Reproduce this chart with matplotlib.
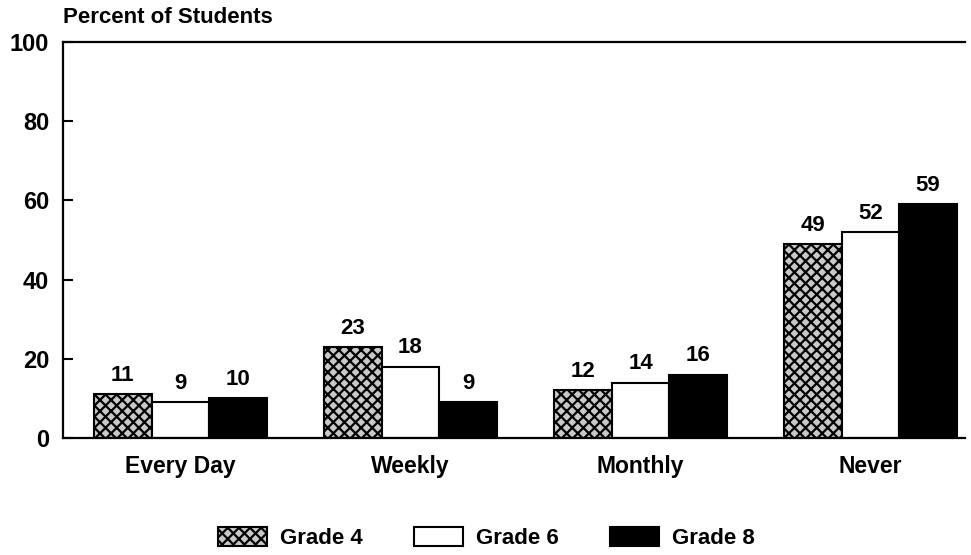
import matplotlib
matplotlib.use('Agg')
import matplotlib.pyplot as plt
import numpy as np

categories = ['Every Day', 'Weekly', 'Monthly', 'Never']
grades = ['Grade 4', 'Grade 6', 'Grade 8']
grade4 = [11, 23, 12, 49]
grade6 = [9, 18, 14, 52]
grade8 = [10, 9, 16, 59]
yticks = [0, 20, 40, 60, 80, 100]

plt.rcParams['font.family'] = ['Liberation Sans', 'DejaVu Sans']
plt.rcParams['hatch.linewidth'] = 1.6
plt.rcParams['hatch.color'] = 'black'

fig = plt.figure(figsize=(9.71, 5.55), dpi=100)
ax = fig.add_axes([63 / 971, 1 - 438 / 555, (965 - 63) / 971, (438 - 42) / 555])

x = np.arange(len(categories))
w = 0.25
styles = [dict(facecolor='#c8c8c8', edgecolor='black', hatch='xxx'),
          dict(facecolor='white', edgecolor='black'),
          dict(facecolor='black', edgecolor='black')]
series = [grade4, grade6, grade8]
bars = []
for i, (vals, st) in enumerate(zip(series, styles)):
    b = ax.bar(x + (i - 1) * w, vals, w, linewidth=1.5, label=grades[i], **st)
    bars.append(b)
    ax.bar_label(b, labels=[str(v) for v in vals], padding=6,
                 fontsize=16, fontweight='bold')

ax.set_xlim(-0.51, 3.41)
ax.set_ylim(0, 100)
ax.set_yticks(yticks)
ax.set_yticklabels([str(t) for t in yticks], fontsize=17, fontweight='bold')
ax.tick_params(axis='y', direction='in', length=7, width=1.5, pad=10)
ax.set_xticks(x)
ax.set_xticklabels(categories, fontsize=16.5, fontweight='bold')
ax.tick_params(axis='x', length=0, pad=12)

ax.spines['right'].set_visible(False)
for s in ['left', 'top', 'bottom']:
    ax.spines[s].set_linewidth(1.6)

ax.text(0, 1.035, 'Percent of Students', transform=ax.transAxes,
        fontsize=16, fontweight='bold', ha='left', va='bottom')

fig.legend(handles=bars, labels=grades, loc='lower left',
           bbox_to_anchor=(218 / 971, 6 / 555), ncol=3, frameon=False,
           prop={'size': 16, 'weight': 'bold'}, handlelength=2.2,
           handleheight=0.9, columnspacing=2.3, handletextpad=0.6,
           borderpad=0, borderaxespad=0)

fig.savefig('out.png', dpi=100)
